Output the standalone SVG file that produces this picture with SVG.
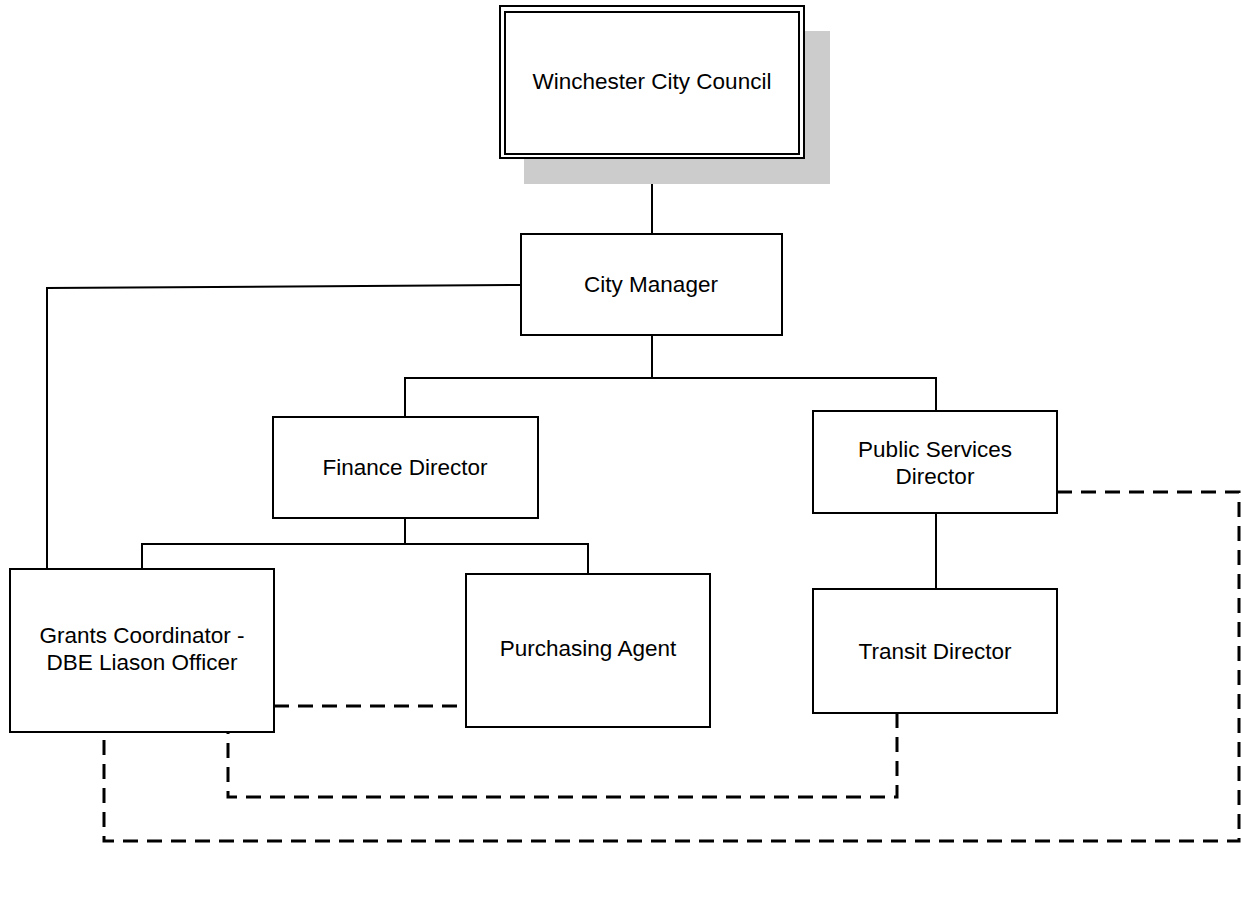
<svg xmlns="http://www.w3.org/2000/svg" width="1241" height="902" viewBox="0 0 1241 902">
<style>
.box{fill:#fff;stroke:#000;stroke-width:2}
.t{font-family:"Liberation Sans",Arial,sans-serif;font-size:22.5px;fill:#000;text-anchor:middle}
.s{fill:none;stroke:#000;stroke-width:2}
.d{fill:none;stroke:#000;stroke-width:3;stroke-dasharray:15 9}
</style>
<rect width="1241" height="902" fill="#fff"/>
<g id="connectors">
<polyline class="s" points="652,158 652,234"/>
<polyline class="s" points="652,335 652,378"/>
<polyline class="s" points="405,417 405,378 936,378 936,411"/>
<polyline class="s" points="521,285 47,288 47,569"/>
<polyline class="s" points="405,518 405,544"/>
<polyline class="s" points="142,569 142,544 588,544 588,574"/>
<polyline class="s" points="936,513 936,589"/>
<polyline class="d" points="274,706 466,706"/>
<polyline class="d" points="897,713 897,797 228,797 228,732"/>
<polyline class="d" points="1057,492 1239,492 1239,841 104,841 104,732"/>
</g>
<g id="winchester">
<rect x="524" y="31" width="306" height="153" fill="#cccccc"/>
<rect class="box" x="500" y="6" width="304" height="152"/>
<rect x="505" y="12" width="294" height="142" fill="none" stroke="#000" stroke-width="2"/>
<text class="t" x="652" y="89">Winchester City Council</text>
</g>
<g id="city-manager">
<rect class="box" x="521" y="234" width="261" height="101"/>
<text class="t" x="651" y="292">City Manager</text>
</g>
<g id="finance">
<rect class="box" x="273" y="417" width="265" height="101"/>
<text class="t" x="405" y="475">Finance Director</text>
</g>
<g id="public-services">
<rect class="box" x="813" y="411" width="244" height="102"/>
<text class="t" x="935" y="457">Public Services</text>
<text class="t" x="935" y="484">Director</text>
</g>
<g id="grants">
<rect class="box" x="10" y="569" width="264" height="163"/>
<text class="t" x="142" y="643">Grants Coordinator -</text>
<text class="t" x="142" y="670">DBE Liason Officer</text>
</g>
<g id="purchasing">
<rect class="box" x="466" y="574" width="244" height="153"/>
<text class="t" x="588" y="656">Purchasing Agent</text>
</g>
<g id="transit">
<rect class="box" x="813" y="589" width="244" height="124"/>
<text class="t" x="935" y="659">Transit Director</text>
</g>
</svg>
